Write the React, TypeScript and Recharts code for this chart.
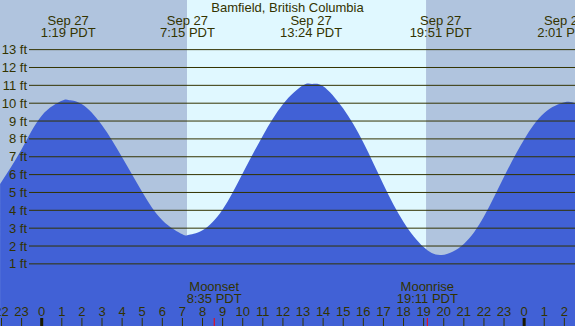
import React from "react"
import { ComposedChart, Area, XAxis, YAxis, ReferenceArea, ReferenceLine } from "recharts"

const title = "Bamfield, British Columbia"

// tide height (ft), hours from midnight Sep 27
const tideHours = [
  -2.07, -1, 0, 1, 1.32, 2, 3, 4, 5, 6, 7, 7.28, 8, 9, 10, 11, 12, 13, 13.45, 14, 15, 16, 17, 18,
  19, 19.9, 21, 22, 23, 24, 25, 26.02, 26.54,
]
const tideFeet = [
  5.47, 7.42, 9.3, 10.13, 10.18, 9.94, 8.77, 6.97, 5.03, 3.45, 2.66, 2.62, 2.88, 4.05, 6.08, 8.18,
  9.94, 11.0, 11.08, 10.95, 9.7, 7.8, 5.45, 3.35, 1.94, 1.5, 2.12, 3.65, 5.88, 7.97, 9.45, 10.05,
  9.98,
]

const eventHours = [1.317, 7.25, 13.4, 19.85, 26.017]
const eventDates = ["Sep 27", "Sep 27", "Sep 27", "Sep 27", "Sep 27"]
const eventTimes = ["1:19 PDT", "7:15 PDT", "13:24 PDT", "19:51 PDT", "2:01 PDT"]

const moonHours = [8.583, 19.183]
const moonNames = ["Moonset", "Moonrise"]
const moonTimes = ["8:35 PDT", "19:11 PDT"]

const sunrise = 7.23
const sunset = 19.12

const hourTicks = [-2, -1, 0, 1, 2, 3, 4, 5, 6, 7, 8, 9, 10, 11, 12, 13, 14, 15, 16, 17, 18, 19, 20, 21, 22, 23, 24, 25, 26]
const feetLines = [1, 2, 3, 4, 5, 6, 7, 8, 9, 10, 11, 12, 13]

const data = tideHours.map((t, i) => ({ t, ft: tideFeet[i] }))

const X_MIN = -2.075
const X_MAX = 26.53
const Y_MIN = -2.48
const Y_MAX = 15.78
const GRID_START = -0.632

const ink = "#333300"
const font = "'Liberation Sans', Arial, sans-serif"
const fs = 13

function HourTick({ x, y, payload }: any) {
  const h = payload.value
  const midnight = h % 24 === 0
  const label = ((h % 24) + 24) % 24
  return (
    <g>
      <line x1={x} x2={x} y1={y - 8} y2={y} stroke={midnight ? "#1a1a00" : ink} strokeWidth={midnight ? 3 : 1} />
      <text x={x} y={y - 10} textAnchor="middle" fill={ink} fontSize={fs} fontFamily={font}>
        {label}
      </text>
    </g>
  )
}

// this axis sits 1px above the hour axis (mirrored bottom axes stack)
function MoonTick({ x, y, index }: any) {
  const b = y + 1
  return (
    <g>
      <line x1={x} x2={x} y1={b - 8} y2={b} stroke="#ff0000" strokeWidth={1} />
      <text x={x} y={b - 35} textAnchor="middle" fill={ink} fontSize={fs} fontFamily={font}>
        {moonNames[index]}
      </text>
      <text x={x} y={b - 23} textAnchor="middle" fill={ink} fontSize={fs} fontFamily={font}>
        {moonTimes[index]}
      </text>
    </g>
  )
}

function EventTick({ x, y, index }: any) {
  return (
    <g>
      <text x={x} y={y + 25} textAnchor="middle" fill={ink} fontSize={fs} fontFamily={font}>
        {eventDates[index]}
      </text>
      <text x={x} y={y + 37} textAnchor="middle" fill={ink} fontSize={fs} fontFamily={font}>
        {eventTimes[index]}
      </text>
    </g>
  )
}

const ftLabel = (f: number) => (props: any) => {
  const vb = props.viewBox || {}
  return (
    <text x={vb.x - 2} y={vb.y + 4.5} textAnchor="end" fill={ink} fontSize={fs} fontFamily={font}>
      {`${f} ft`}
    </text>
  )
}

export default function App() {
  return (
    <div style={{ position: "absolute", left: 0, top: 0, width: 575, height: 326 }}>
      <ComposedChart width={575} height={326} data={data} margin={{ top: 0, right: 0, bottom: 0, left: 0 }}>
        <ReferenceArea x1={X_MIN} x2={sunrise} fill="#b0c4de" fillOpacity={1} stroke="none" />
        <ReferenceArea x1={sunrise} x2={sunset} fill="#e0f8ff" fillOpacity={1} stroke="none" />
        <ReferenceArea x1={sunset} x2={X_MAX} fill="#b0c4de" fillOpacity={1} stroke="none" />
        <Area
          type="natural"
          dataKey="ft"
          baseValue={Y_MIN}
          stroke="none"
          fill="#4161d6"
          fillOpacity={1}
          isAnimationActive={false}
          dot={false}
          activeDot={false}
        />
        {feetLines.map((f) => (
          <ReferenceLine
            key={f}
            segment={[{ x: GRID_START, y: f }, { x: X_MAX, y: f }]}
            stroke={ink}
            strokeWidth={1}
            label={ftLabel(f)}
          />
        ))}
        <YAxis hide type="number" domain={[Y_MIN, Y_MAX]} allowDataOverflow />
        <XAxis
          dataKey="t"
          type="number"
          domain={[X_MIN, X_MAX]}
          allowDataOverflow
          ticks={hourTicks}
          interval={0}
          height={1}
          mirror
          axisLine={false}
          tickLine={false}
          tickSize={0}
          tickMargin={0}
          tick={<HourTick />}
        />
        <XAxis
          xAxisId="moon"
          dataKey="t"
          type="number"
          domain={[X_MIN, X_MAX]}
          allowDataOverflow
          ticks={moonHours}
          interval={0}
          height={30}
          mirror
          axisLine={false}
          tickLine={false}
          tickSize={0}
          tickMargin={0}
          tick={<MoonTick />}
        />
        <XAxis
          xAxisId="top"
          orientation="top"
          dataKey="t"
          type="number"
          domain={[X_MIN, X_MAX]}
          allowDataOverflow
          ticks={eventHours}
          interval={0}
          height={40}
          mirror
          axisLine={false}
          tickLine={false}
          tickSize={0}
          tickMargin={0}
          tick={<EventTick />}
        />
      </ComposedChart>
      <div
        style={{
          position: "absolute",
          left: 0,
          top: 0,
          width: 575,
          textAlign: "center",
          fontFamily: font,
          fontSize: fs,
          lineHeight: "16px",
          color: ink,
        }}
      >
        {title}
      </div>
    </div>
  )
}
